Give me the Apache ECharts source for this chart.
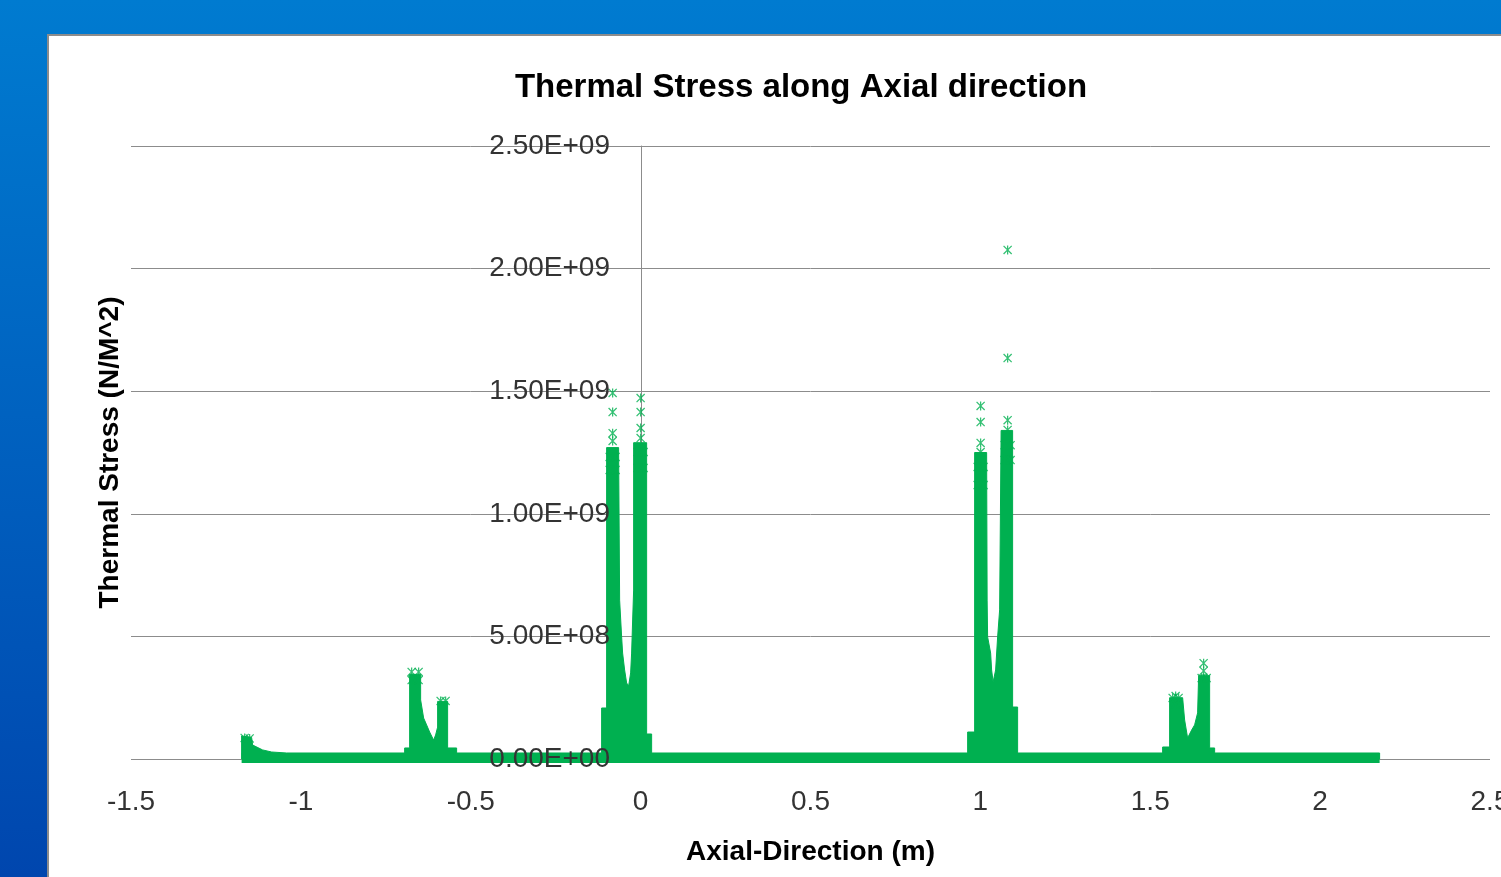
<!DOCTYPE html>
<html>
<head>
<meta charset="utf-8">
<style>
  html, body { margin: 0; padding: 0; overflow: hidden; }
  #chart { width: 1501px; height: 877px; }
</style>
<script src="https://cdn.jsdelivr.net/npm/echarts@6/dist/echarts.min.js"></script>
</head>
<body>
<div id="chart"></div>
<script>
// ---- Data (x in m, stress in N/m^2) ----
const yTickLabels = ['0.00E+00', '5.00E+08', '1.00E+09', '1.50E+09', '2.00E+09', '2.50E+09'];

// continuous band of points lying near zero stress
const baseBand = [[-1.1744, 4e6], [2.1751, 4e6]];

// upper envelope of the dense point clouds
const humpStart = [
  [-1.1744, 0], [-1.1744, 9.4e7], [-1.1450, 8.8e7], [-1.1420, 5.7e7],
  [-1.1126, 3.7e7], [-1.0861, 2.85e7], [-1.0419, 2.45e7]
];
const peakNeg068 = [
  [-0.6946, 2.45e7], [-0.6946, 4.5e7], [-0.6799, 4.5e7], [-0.6799, 3.45e8],
  [-0.6475, 3.45e8], [-0.6475, 2.41e8], [-0.6387, 1.67e8], [-0.6299, 1.39e8],
  [-0.6210, 1.10e8], [-0.6093, 7.7e7], [-0.6034, 9.8e7], [-0.5975, 1.30e8],
  [-0.5975, 2.35e8], [-0.5681, 2.35e8], [-0.5681, 4.5e7], [-0.5416, 4.5e7],
  [-0.5416, 2.45e7]
];
const peakZero = [
  [-0.1148, 2.45e7], [-0.1148, 2.08e8], [-0.1001, 2.08e8], [-0.1001, 1.27e9],
  [-0.0648, 1.27e9], [-0.0618, 6.48e8], [-0.0559, 4.98e8], [-0.0530, 4.32e8],
  [-0.0471, 3.63e8], [-0.0412, 3.10e8], [-0.0353, 2.98e8], [-0.0294, 3.51e8],
  [-0.0265, 4.32e8], [-0.0235, 5.67e8], [-0.0206, 6.89e8], [-0.0206, 1.29e9],
  [0.0177, 1.29e9], [0.0177, 1.02e8], [0.0324, 1.02e8], [0.0324, 2.45e7]
];
const peakOne = [
  [0.9625, 2.45e7], [0.9625, 1.10e8], [0.9831, 1.10e8], [0.9831, 1.25e9],
  [1.0184, 1.25e9], [1.0199, 6.48e8], [1.0213, 4.98e8], [1.0302, 4.32e8],
  [1.0331, 3.63e8], [1.0375, 3.14e8], [1.0449, 3.63e8], [1.0508, 4.98e8],
  [1.0567, 6.08e8], [1.0610, 1.34e9], [1.0949, 1.34e9], [1.0949, 2.12e8],
  [1.1096, 2.12e8], [1.1096, 2.45e7]
];
const peakOneSix = [
  [1.5364, 2.45e7], [1.5364, 4.9e7], [1.5570, 4.9e7], [1.5570, 2.50e8],
  [1.5953, 2.50e8], [1.6012, 1.59e8], [1.6100, 8.6e7], [1.6218, 1.18e8],
  [1.6306, 1.39e8], [1.6394, 1.88e8], [1.6424, 3.40e8], [1.6748, 3.40e8],
  [1.6748, 4.5e7], [1.6895, 4.5e7], [1.6895, 2.45e7], [2.1751, 2.45e7],
  [2.1751, 0]
];

// individual star markers visible at the tops of the clouds
const starPoints = [
  [-1.1655, 8.6e7], [-1.1508, 8.4e7],
  [-0.6740, 3.55e8], [-0.6534, 3.55e8], [-0.6740, 3.22e8], [-0.6534, 3.22e8],
  [-0.5887, 2.37e8], [-0.5740, 2.37e8],
  [-0.0824, 1.493e9], [-0.0824, 1.415e9], [-0.0824, 1.329e9], [-0.0824, 1.297e9],
  [-0.0912, 1.232e9], [-0.0736, 1.232e9], [-0.0912, 1.179e9], [-0.0736, 1.179e9],
  [0.0, 1.472e9], [0.0, 1.415e9], [0.0, 1.350e9], [0.0, 1.309e9],
  [-0.0088, 1.252e9], [0.0088, 1.252e9], [-0.0088, 1.187e9], [0.0088, 1.187e9],
  [1.0007, 1.440e9], [1.0007, 1.374e9], [1.0007, 1.289e9], [1.0007, 1.252e9],
  [0.9919, 1.191e9], [1.0096, 1.191e9], [0.9919, 1.117e9], [1.0096, 1.117e9],
  [1.0802, 2.076e9], [1.0802, 1.635e9], [1.0802, 1.382e9], [1.0802, 1.342e9],
  [1.0714, 1.280e9], [1.0890, 1.280e9], [1.0714, 1.219e9], [1.0890, 1.219e9],
  [1.5747, 2.57e8], [1.5747, 2.24e8], [1.5659, 2.49e8], [1.5835, 2.49e8],
  [1.6571, 3.91e8], [1.6571, 3.59e8], [1.6512, 3.30e8], [1.6660, 3.30e8]
];

const GREEN = '#00B050';
const FONT = 'Liberation Sans';
const STAR = 'path://M4.3,0 L5.7,0 L5.7,10 L4.3,10 Z M0,1 L1,0 L10,9 L9,10 Z M9,0 L10,1 L1,10 L0,9 Z';

const envelope = [].concat(humpStart, peakNeg068, peakZero, peakOne, peakOneSix);

const chart = echarts.init(document.getElementById('chart'), null, { renderer: 'canvas' });

const yCommon = { type: 'value', min: 0, max: 2.5e9, interval: 5e8, offset: -510 };

chart.setOption({
  animation: false,
  textStyle: { fontFamily: FONT },
  graphic: [
    {
      type: 'rect', z: -10, silent: true,
      shape: { x: 0, y: 0, width: 1501, height: 877 },
      style: {
        fill: new echarts.graphic.LinearGradient(0, 0, 0, 1, [
          { offset: 0, color: '#007BD0' },
          { offset: 1, color: '#0046AE' }
        ])
      }
    },
    {
      type: 'rect', z: -9, silent: true,
      shape: { x: 48, y: 35, width: 1480, height: 870 },
      style: { fill: '#FFFFFF', stroke: '#8C8C8C', lineWidth: 2 }
    }
  ],
  title: {
    text: 'Thermal Stress along Axial direction',
    left: 796,
    top: 66,
    textAlign: 'center',
    textStyle: { fontFamily: FONT, fontSize: 33, fontWeight: 'bold', color: '#000' }
  },
  grid: { left: 131, right: 11, top: 146, bottom: 118, containLabel: false, outerBoundsMode: 'none' },
  xAxis: {
    type: 'value',
    min: -1.5, max: 2.5, interval: 0.5,
    name: 'Axial-Direction (m)',
    nameLocation: 'middle',
    nameGap: 79,
    nameTextStyle: { fontFamily: FONT, fontSize: 28, fontWeight: 'bold', color: '#000' },
    axisLine: { show: false },
    axisTick: { show: false },
    splitLine: { show: false },
    axisLabel: { fontFamily: FONT, fontSize: 28, color: '#333', margin: 29 }
  },
  yAxis: [
    Object.assign({}, yCommon, {
      z: 0,
      name: 'Thermal Stress (N/M^2)',
      nameLocation: 'middle',
      nameGap: 517,
      nameTextStyle: { fontFamily: FONT, fontSize: 28, fontWeight: 'bold', color: '#000' },
      axisLine: { show: true, onZero: false, lineStyle: { color: '#8C8C8C', width: 1 } },
      axisTick: { show: false },
      splitLine: { show: true, lineStyle: { color: '#8C8C8C', width: 1 } },
      axisLabel: { show: false }
    }),
    Object.assign({}, yCommon, {
      z: 10,
      position: 'left',
      axisLine: { show: false, onZero: false },
      axisTick: { show: false },
      splitLine: { show: false },
      axisLabel: {
        fontFamily: FONT, fontSize: 28, color: '#333', margin: 31,
        padding: [4, 0, 0, 0],
        formatter: v => yTickLabels[Math.round(v / 5e8)]
      }
    })
  ],
  series: [
    {
      name: 'band', type: 'line', data: baseBand, symbol: 'none', clip: false,
      lineStyle: { color: GREEN, width: 10 }, z: 3
    },
    {
      name: 'cloud', type: 'line', data: envelope, symbol: 'none', clip: false,
      lineStyle: { color: GREEN, width: 1 },
      areaStyle: { color: GREEN, opacity: 1 }, z: 4
    },
    {
      name: 'points', type: 'scatter', data: starPoints, symbol: STAR, symbolSize: 9,
      itemStyle: { color: GREEN }, z: 5
    }
  ]
});
</script>
</body>
</html>
